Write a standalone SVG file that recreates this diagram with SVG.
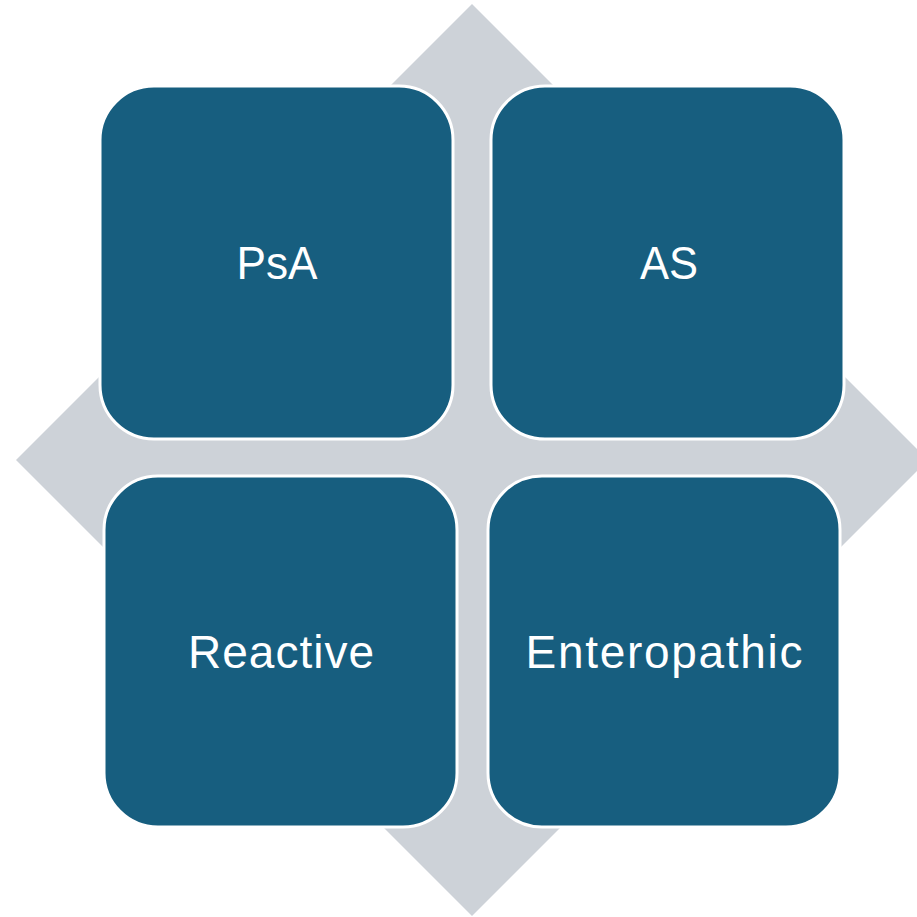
<svg xmlns="http://www.w3.org/2000/svg" width="917" height="917" viewBox="0 0 917 917">
  <style>
    .bg { fill: #cdd2d8; }
    .box { fill: #175e7f; stroke: #ffffff; stroke-width: 3; }
    .label { fill: #ffffff; font-family: "Liberation Sans", Arial, sans-serif; font-size: 46px; text-anchor: middle; }
  </style>
  <rect width="917" height="917" fill="#ffffff"/>
  <!-- background diamond behind the quadrants -->
  <g id="connectors">
    <polygon class="bg" points="472,4 928,460 472,916 16,460"/>
  </g>
  <g id="node-psa">
    <rect class="box" x="100" y="86" width="353" height="353" rx="54" ry="54"/>
    <text class="label" x="277" y="279" textLength="81" lengthAdjust="spacingAndGlyphs">PsA</text>
  </g>
  <g id="node-as">
    <rect class="box" x="491" y="86" width="353" height="353" rx="54" ry="54"/>
    <text class="label" x="669" y="279" textLength="58" lengthAdjust="spacingAndGlyphs">AS</text>
  </g>
  <g id="node-reactive">
    <rect class="box" x="104" y="476" width="353" height="351" rx="54" ry="54"/>
    <text class="label" x="281" y="668" textLength="186" lengthAdjust="spacing">Reactive</text>
  </g>
  <g id="node-enteropathic">
    <rect class="box" x="488" y="476" width="352" height="351" rx="54" ry="54"/>
    <text class="label" x="664" y="668" textLength="277" lengthAdjust="spacing">Enteropathic</text>
  </g>
</svg>
